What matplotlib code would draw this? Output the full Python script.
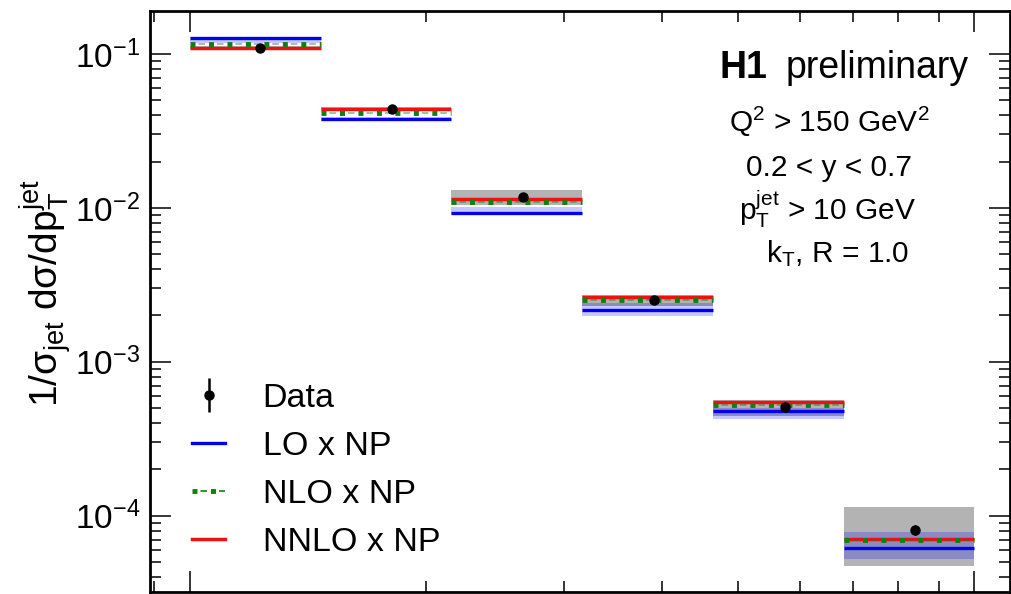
import numpy as np
import matplotlib
matplotlib.use('Agg')
import matplotlib.pyplot as plt
from matplotlib.lines import Line2D

plt.rcParams['font.family'] = ['Liberation Sans', 'DejaVu Sans']
plt.rcParams['mathtext.fontset'] = 'custom'
plt.rcParams['mathtext.rm'] = 'Liberation Sans'
plt.rcParams['mathtext.it'] = 'Liberation Sans:italic'
plt.rcParams['mathtext.bf'] = 'Liberation Sans:bold'
plt.rcParams['lines.scale_dashes'] = False

# jet pT bins (GeV) and mean pT of the data in each bin
pt_edges = [10, 14.7, 21.5, 31.6, 46.4, 68.1, 100]
pt_mean = [12.3, 18.1, 26.6, 39.0, 57.3, 84.1]

# normalised jet cross section 1/sigma dsigma/dpT
data = [0.110, 0.0439, 0.01175, 2.51e-3, 5.07e-4, 8.09e-5]
data_stat = [0.0008, 0.0004, 0.00012, 0.00003, 0.00001, 0.0000062]
data_syst = [0.003, 0.0012, 0.0013, 0.0002, 0.00006, 0.000034]

# predictions, corrected for hadronisation (NP)
lo = [0.1265, 0.0376, 0.00927, 2.18e-3, 4.78e-4, 6.22e-5]
lo_up = [0.1280, 0.0392, 0.0101, 2.40e-3, 5.00e-4, 7.8e-5]
lo_down = [0.1180, 0.0366, 0.00898, 1.98e-3, 4.26e-4, 5.26e-5]
nlo = [0.1162, 0.0411, 0.01094, 2.51e-3, 5.26e-4, 7.0e-5]
nnlo = [0.1099, 0.0439, 0.0114, 2.62e-3, 5.47e-4, 7.06e-5]

edges = np.array(pt_edges)
left, right = edges[:-1], edges[1:]
widths = right - left

fig = plt.figure(figsize=(10.12, 5.94), dpi=100)
ax = fig.add_axes([150 / 1012, 2 / 594, 860 / 1012, 581 / 594])
ax.set_xscale('log')
ax.set_yscale('log')

# data systematic boxes
syst = np.array(data_syst)
ax.bar(left, 2 * syst, bottom=np.array(data) - syst, width=widths, align='edge',
       color='#b3b3b3', edgecolor='none', zorder=1)

# LO uncertainty band
lo_up_a, lo_down_a = np.array(lo_up), np.array(lo_down)
ax.bar(left, lo_up_a - lo_down_a, bottom=lo_down_a, width=widths, align='edge',
       color='blue', alpha=0.22, edgecolor='none', zorder=2)

ax.hlines(lo, left, right, color='#0000ee', lw=2.4, zorder=3)
ax.hlines(nnlo, left, right, color='#ee1111', lw=2.5, zorder=4)
# NLO: square dashes with a thin dash in between
ax.hlines(nlo, left, right, color='#108010', lw=3.5, linestyles=[(0, (3.6, 9.7))], zorder=5)
ax.hlines(nlo, left, right, color='#108010', lw=1.2, alpha=0.5,
          linestyles=[(7.2, (4.7, 8.6))], zorder=5)

ax.errorbar(pt_mean, data, yerr=data_stat, fmt='o', color='black', ms=6.5,
            elinewidth=1.8, capsize=0, zorder=6)

ax.set_xlim(8.9, 111)
ax.set_ylim(3.2e-5, 0.19)

ax.tick_params(which='both', direction='in', top=True, right=True, width=1.1,
               labelbottom=False)
ax.tick_params(which='major', length=15, labelsize=24, pad=7)
ax.tick_params(which='minor', length=8)
for s in ax.spines.values():
    s.set_linewidth(2)

ax.set_ylabel('1/σ$_{\\mathrm{jet}}$ dσ/dp$_{\\mathrm{T}}^{\\mathrm{jet}}$', fontsize=28)
ax.yaxis.set_label_coords(-0.09, 0.515)

# legend
h_data = ax.errorbar([], [], yerr=[], fmt='o', color='black', ms=6.5, elinewidth=1.8, capsize=0)
h_lo = Line2D([], [], color='#0000ee', lw=2.4)
h_nlo_sq = Line2D([], [], color='#108010', lw=3.5, ls=(0, (3.6, 9.7)))
h_nlo_th = Line2D([], [], color='#108010', lw=1.2, ls=(7.2, (4.7, 8.6)))
h_nnlo = Line2D([], [], color='#ee1111', lw=2.5)
ax.legend([h_data, h_lo, (h_nlo_sq, h_nlo_th), h_nnlo],
          ['Data', 'LO x NP', 'NLO x NP', 'NNLO x NP'],
          loc='upper left', bbox_to_anchor=(0.049, 0.36), frameon=False,
          fontsize=24.5, borderpad=0, borderaxespad=0, handlelength=0.97,
          handletextpad=1.1, labelspacing=0.5)

# header and selection cuts
fig.text(720 / 1012, 1 - 78 / 594, 'H1', fontsize=27, fontweight='bold', va='baseline')
fig.text(786 / 1012, 1 - 78 / 594, 'preliminary', fontsize=27, va='baseline')
fig.text(829 / 1012, 1 - 132 / 594, 'Q$^{2}$ > 150 GeV$^{2}$', fontsize=21.5, ha='center', va='baseline')
fig.text(829 / 1012, 1 - 176 / 594, '0.2 < y < 0.7', fontsize=21.5, ha='center', va='baseline')
fig.text(828 / 1012, 1 - 220 / 594, 'p$_{\\mathrm{T}}^{\\mathrm{jet}}$ > 10 GeV', fontsize=21.5,
         ha='center', va='baseline')
fig.text(838 / 1012, 1 - 262 / 594, 'k$_{\\mathrm{T}}$, R = 1.0', fontsize=21.5, ha='center', va='baseline')

plt.savefig('out.png', dpi=100)
